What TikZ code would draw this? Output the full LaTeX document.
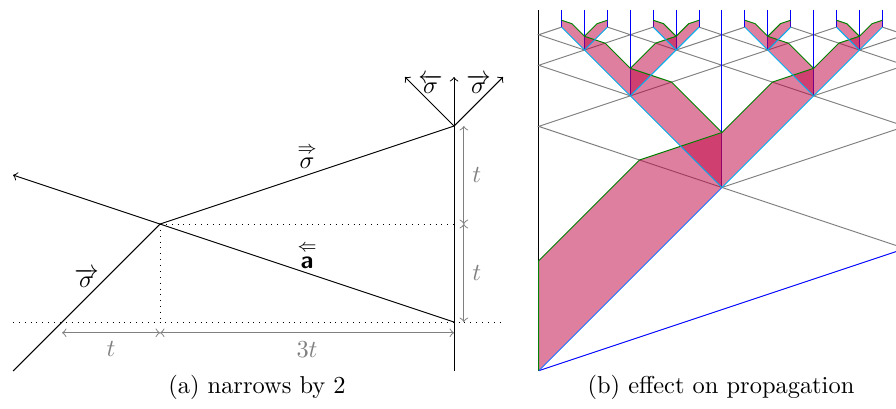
\documentclass[tikz,border=0pt]{standalone}
\usepackage{amsmath}

\tikzset{
  dimline/.style={gray, <->},
  asig/.style={gray, thin},
  col/.style={blue},
  band/.style={fill=purple, fill opacity=.5},
  lowedge/.style={cyan},
  upedge/.style={green!50!black},
}
\definecolor{lowblue}{RGB}{30,110,255}

\begin{document}
\begin{tikzpicture}[x=1.41cm,y=1.41cm]
    \useasboundingbox (-1.633,-.878) rectangle (7.51,3.286);

    % (a) narrows by 2
    \coordinate (s0) at (-1.5,-.5);
    \coordinate (x) at (0,1);
    \coordinate (b) at (3,0);
    \coordinate (p) at (3,2);
    \coordinate (wb) at (3,-.5);
    \coordinate (wt) at (3,2.5);
    \coordinate (lt) at (2.5,2.5);
    \coordinate (rt) at (3.5,2.5);
    \coordinate (aend) at (-1.5,1.5);

    \draw[dotted] (-1.5,0) -- (3.5,0);
    \draw[dotted] (x) -- (0,0);
    \draw[dotted] (x) -- (3,1);

    \draw (s0) -- (x);
    \draw[->] (b) -- (x) -- (aend);
    \draw (x) -- (p);
    \draw[->] (wb) -- (wt);
    \draw[->] (p) -- (lt);
    \draw[->] (p) -- (rt);

    \node (lsig) at (-.75,.45) {$\overrightarrow{\sigma}$};
    \node (lfast) at (1.5,1.69) {$\overset{\Rightarrow}{\sigma}$};
    \node (la) at (1.5,.68) {$\overset{\Leftarrow}{\textsf{\textbf{a}}}$};
    \node (lleft) at (2.76,2.43) {$\overleftarrow{\sigma}$};
    \node (lright) at (3.25,2.43) {$\overrightarrow{\sigma}$};

    \draw[dimline] (-1,-.11) -- (0,-.11) node[midway, below, gray] (d1) {$t$};
    \draw[dimline] (0,-.11) -- (3,-.11) node[midway, below, gray] (d2) {$3t$};
    \draw[dimline] (3.1,0) -- (3.1,1) node[midway, right, gray] (d3) {$t$};
    \draw[dimline] (3.1,1) -- (3.1,2) node[midway, right, gray] (d4) {$t$};

    \node (capa) at (.99,-.67) {(a) narrows by 2};

    % (b) effect on propagation
    \begin{scope}[shift={(3.864,-.497)}, scale=1.87]
        \clip (-.1,-.1) rectangle (1.949,2.03);
        \draw (0,0) -- (0,1.968);

        % a signals
        \draw[blue] (0,0) -- (2,.6667);
        \draw[asig] (2,.6667) -- (1,1);
        \foreach \cx/\T/\l in {1/1/1, .5/1.5/.5, 1.5/1.5/.5, .25/1.75/.25, .75/1.75/.25, 1.25/1.75/.25, 1.75/1.75/.25}
            \draw[asig] ({\cx-\l/2},{\T+\l/2}) -- ({\cx-\l},{\T+\l/3}) -- (\cx,\T)
                -- ({\cx+\l},{\T+\l/3}) -- ({\cx+\l/2},{\T+\l/2});

        % columns
        \foreach \cx/\T in {1/1, .5/1.5, 1.5/1.5, .25/1.75, .75/1.75, 1.25/1.75, 1.75/1.75,
                .125/1.875, .375/1.875, .625/1.875, .875/1.875, 1.125/1.875, 1.375/1.875, 1.625/1.875, 1.875/1.875}
            \draw[col] (\cx,\T) -- (\cx,1.968);

        % bands
        \fill[band] (0,0) -- (1,1) -- (1,1.3) -- (.55,1.15) -- (0,.6) -- cycle;
        \foreach \cx/\T/\l in {1/1/1, .5/1.5/.5, 1.5/1.5/.5, .25/1.75/.25, .75/1.75/.25, 1.25/1.75/.25, 1.75/1.75/.25}
            \foreach \s in {-1,1}
                \fill[band] (\cx,\T) -- ({\cx+(\s)*\l/2},{\T+\l/2}) -- ({\cx+(\s)*\l/2},{\T+.65*\l})
                    -- ({\cx+(\s)*.275*\l},{\T+.575*\l}) -- (\cx,{\T+.3*\l}) -- cycle;

        % band edges
        \draw[lowblue] (0,0) -- (1,1);
        \draw[upedge] (0,0) -- (0,.6) -- (.55,1.15) -- (1,1.3);
        \foreach \cx/\T/\l in {1/1/1, .5/1.5/.5, 1.5/1.5/.5, .25/1.75/.25, .75/1.75/.25, 1.25/1.75/.25, 1.75/1.75/.25}
            \foreach \s in {-1,1} {
                \draw[lowedge] (\cx,\T) -- ({\cx+(\s)*\l/2},{\T+\l/2});
                \draw[upedge] (\cx,{\T+.3*\l}) -- ({\cx+(\s)*.275*\l},{\T+.575*\l}) -- ({\cx+(\s)*\l/2},{\T+.65*\l});
            }
    \end{scope}

    \node (capb) at (5.724,-.67) {(b) effect on propagation};
\end{tikzpicture}
\end{document}
